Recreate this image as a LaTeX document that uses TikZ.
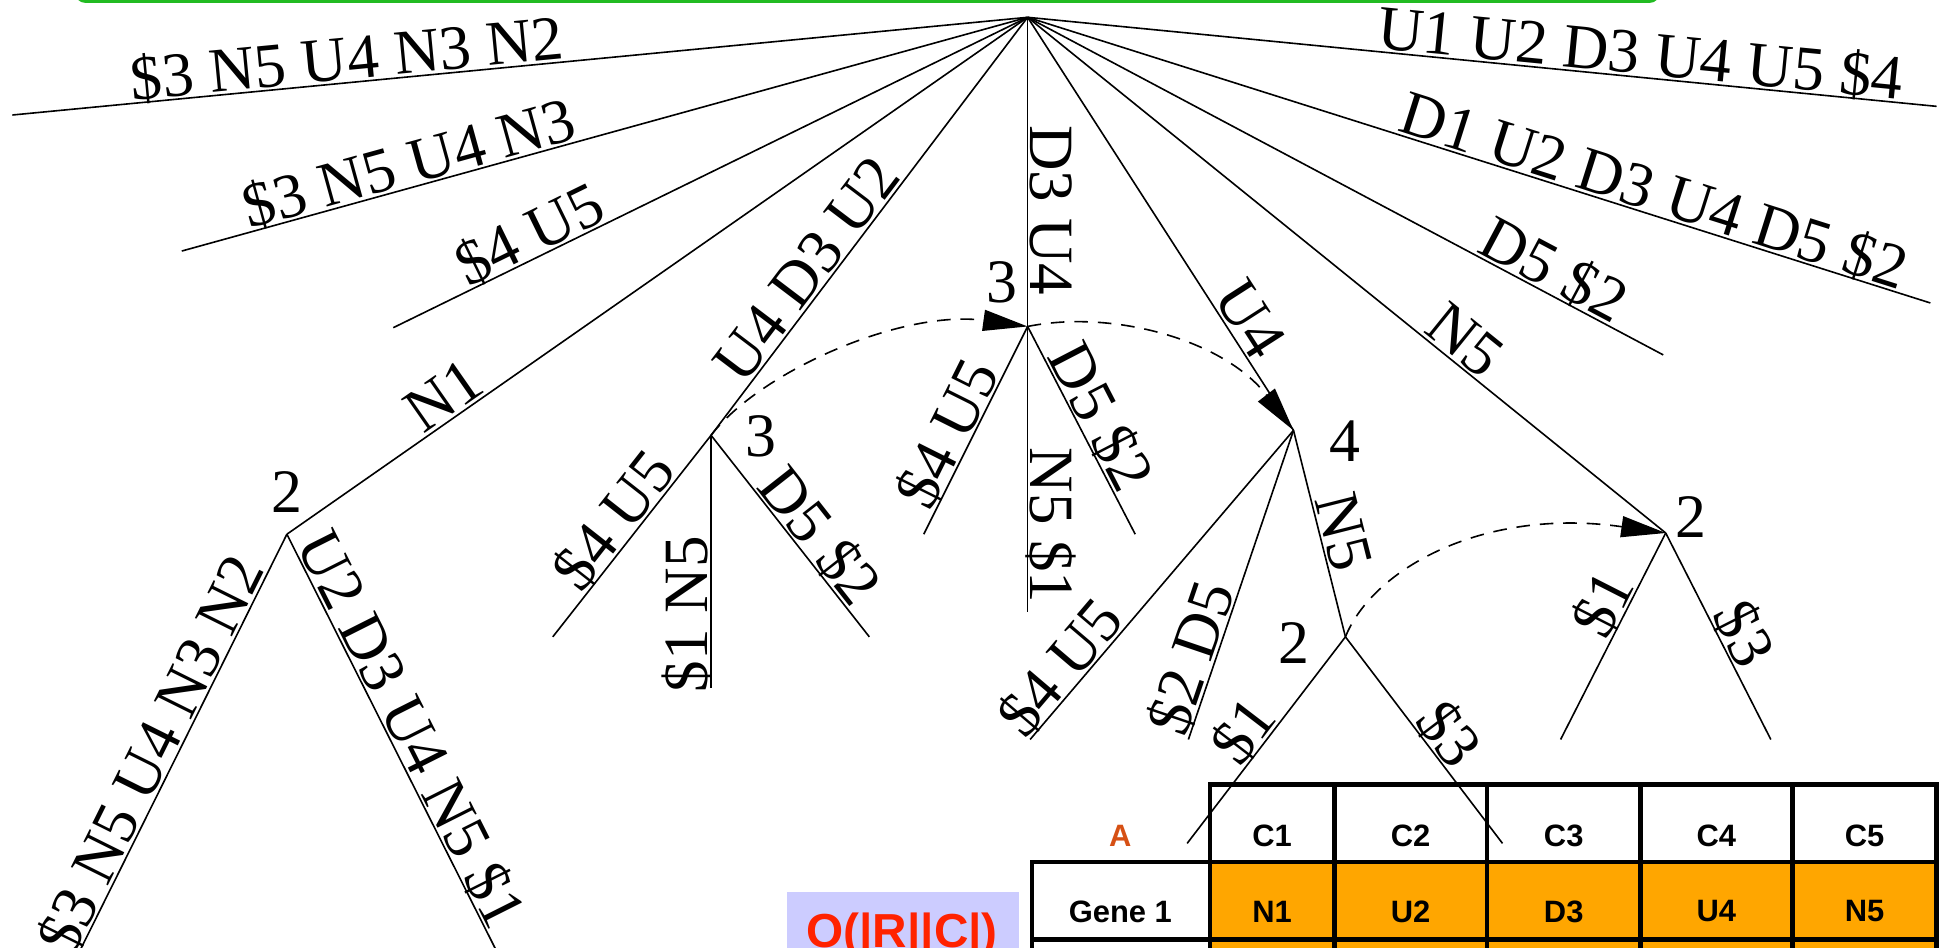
\documentclass[tikz,border=0pt]{standalone}
\usepackage{fontspec}
\setmainfont{Liberation Serif}
\newfontfamily\arialfont{Liberation Sans}
\usetikzlibrary{arrows.meta,calc}

\definecolor{grn}{RGB}{34,187,34}
\definecolor{orng}{RGB}{255,166,0}
\definecolor{lav}{RGB}{204,204,255}
\definecolor{redtxt}{RGB}{255,34,0}
\definecolor{atxt}{RGB}{214,80,20}

\tikzset{
  br/.style={line width=1.3pt, black},
  lab/.style={sloped, anchor=south, inner sep=0pt, text depth=2pt, font=\fontsize{51}{60}\selectfont},
  num/.style={inner sep=0pt, font=\fontsize{50}{60}\selectfont},
  jump/.style={line width=1.3pt, dash pattern=on 11pt off 8pt, -{Triangle[length=36pt,width=17pt]}},
  cell/.style={line width=3.8pt, draw=black},
  ttxt/.style={font=\arialfont\bfseries\fontsize{25}{29}\selectfont, inner sep=0pt},
}

\begin{document}
\begin{tikzpicture}[x=1pt,y=-1pt]
\useasboundingbox (0,0) rectangle (1568,766);
\clip (0,0) rectangle (1568,766);

% green frame (bottom edge of a box above)
\draw[grn, line width=2.6pt, rounded corners=7pt] (62,-30) -- (62,1) -- (1341,1) -- (1341,-30);

% ---------- table ----------
\fill[lav] (636.5,721) rectangle (824,780);
\node[font=\arialfont\bfseries\fontsize{38.6}{44}\selectfont, text=redtxt, anchor=base west, inner sep=0pt] (oc) at (652,766) {O(|R||C|)};

\foreach \xa/\xb in {978.5/1079, 1079/1202.5, 1202.5/1326.5, 1326.5/1449.5, 1449.5/1566}{
  \draw[cell, fill=white] (\xa,634.5) rectangle (\xb,697);
  \draw[cell, fill=orng] (\xa,697) rectangle (\xb,759.5);
  \draw[cell, fill=orng] (\xa,759.5) rectangle (\xb,820);
}
\draw[cell, fill=white] (834.5,697) rectangle (978.5,759.5);
\draw[cell, fill=white] (834.5,759.5) rectangle (978.5,820);

\node[ttxt, text=atxt] (hA) at (906,676) {A};
\node[ttxt] (hC1) at (1028.75,676) {C1};
\node[ttxt] (hC2) at (1140.75,676) {C2};
\node[ttxt] (hC3) at (1264.5,676) {C3};
\node[ttxt] (hC4) at (1388,676) {C4};
\node[ttxt] (hC5) at (1507.75,676) {C5};
\node[ttxt] (g1) at (906,737) {Gene 1};
\node[ttxt] (g1c1) at (1028.75,737) {N1};
\node[ttxt] (g1c2) at (1140.75,737) {U2};
\node[ttxt] (g1c3) at (1264.5,737) {D3};
\node[ttxt] (g1c4) at (1388,737) {U4};
\node[ttxt] (g1c5) at (1507.75,737) {N5};

% ---------- tree ----------
\coordinate (R) at (831,14);
\coordinate (L1) at (10,93);
\coordinate (L2) at (147,203);
\coordinate (L3) at (318,265);
\coordinate (A2) at (232,432);
\coordinate (B3) at (575,352);
\coordinate (C3) at (831,264);
\coordinate (D4) at (1046,348);
\coordinate (F2) at (1347,431);
\coordinate (L9) at (1345,287);
\coordinate (L10) at (1561,245);
\coordinate (L11) at (1566,86);
\coordinate (L12) at (65,768);
\coordinate (L13) at (401,768);
\coordinate (L14) at (447,515);
\coordinate (L15) at (575,556);
\coordinate (L16) at (703,515);
\coordinate (L17) at (747,432);
\coordinate (L18) at (831,495);
\coordinate (L19) at (918,432);
\coordinate (L20) at (833,598);
\coordinate (L21) at (961,598);
\coordinate (E2) at (1088,515);
\coordinate (L23) at (960,682);
\coordinate (L24) at (1215,682);
\coordinate (L25) at (1262,598);
\coordinate (L26) at (1432,598);

% root branches
\draw[br] (R) -- node[lab, pos=0.668] {\$3 N5 U4 N3 N2} (L1);
\draw[br] (R) -- node[lab, pos=0.724] {\$3 N5 U4 N3} (L2);
\draw[br] (R) -- node[lab, pos=0.769] {\$4 U5} (L3);
\draw[br] (R) -- node[lab, pos=0.77] {N1} (A2);
\draw[br] (R) -- node[lab, pos=0.638] {U4 D3 U2} (B3);
\draw[br] (R) -- node[lab, pos=0.624] {D3 U4} (C3);
\draw[br] (R) -- node[lab, pos=0.762] {U4} (D4);
\draw[br] (R) -- node[lab, pos=0.662] {N5} (F2);
\draw[br] (R) -- node[lab, pos=0.81] {D5 \$2} (L9);
\draw[br] (R) -- node[lab, pos=0.686] {D1 U2 D3 U4 D5 \$2} (L10);
\draw[br] (R) -- node[lab, pos=0.672] {U1 U2 D3 U4 U5 \$4} (L11);

% node A2
\draw[br] (A2) -- node[lab, pos=0.556] {\$3 N5 U4 N3 N2} (L12);
\draw[br] (A2) -- node[lab, pos=0.495] {U2 D3 U4 N5 \$1} (L13);
\node[num] (nA2) at ($(A2)+(0,-34)$) {2};

% node B3
\draw[br] (B3) -- node[lab, pos=0.497] {\$4 U5} (L14);
\draw[br] (L15) -- node[lab, pos=0.29] {\$1 N5} (B3);
\draw[br] (B3) -- node[lab, pos=0.571] {D5 \$2} (L16);
\node[num] (nB3) at ($(B3)+(40,1)$) {3};

% node C3
\draw[br] (C3) -- node[lab, pos=0.567] {\$4 U5} (L17);
\draw[br] (C3) -- node[lab, pos=0.697] {N5 \$1} (L18);
\draw[br] (C3) -- node[lab, pos=0.486] {D5 \$2} (L19);
\node[num] (nC3) at ($(C3)+(-21,-36)$) {3};

% node D4
\draw[br] (D4) -- node[lab, pos=0.818] {\$4 U5} (L20);
\draw[br] (D4) -- node[lab, pos=0.76] {\$2 D5} (L21);
\draw[br] (D4) -- node[lab, pos=0.52] {N5} (E2);
\node[num] (nD4) at ($(D4)+(42,9)$) {4};

% node E2
\draw[br] (E2) -- node[lab, pos=0.524] {\$1} (L23);
\draw[br] (E2) -- node[lab, pos=0.539] {\$3} (L24);
\node[num] (nE2) at ($(E2)+(-42,5)$) {2};

% node F2
\draw[br] (F2) -- node[lab, pos=0.397] {\$1} (L25);
\draw[br] (F2) -- node[lab, pos=0.54] {\$3} (L26);
\node[num] (nF2) at ($(F2)+(20,-13)$) {2};

% dashed links
\draw[jump] (B3) .. controls (615,300) and (730,250) .. (C3);
\draw[jump] (C3) .. controls (900,250) and (990,275) .. (D4);
\draw[jump] (E2) .. controls (1110,460) and (1200,410) .. (F2);
\end{tikzpicture}
\end{document}
